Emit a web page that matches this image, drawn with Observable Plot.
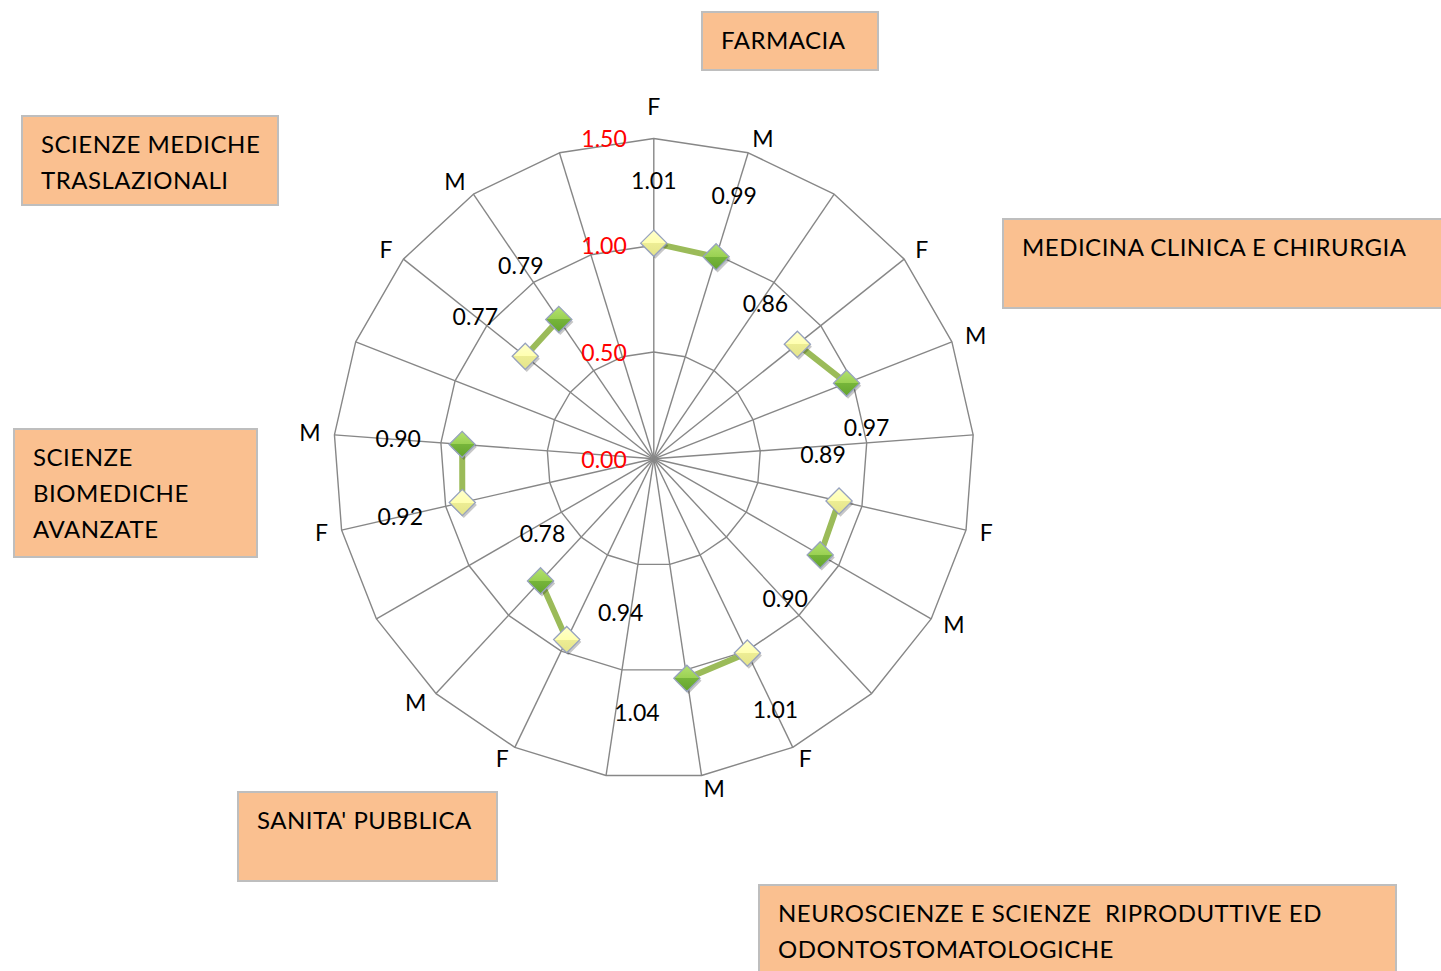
<!DOCTYPE html>
<html><head><meta charset="utf-8">
<script src="https://cdn.jsdelivr.net/npm/d3@7"></script>
<script src="https://cdn.jsdelivr.net/npm/@observablehq/plot@0.6"></script>
<style>
html,body{margin:0;padding:0;background:#fff;}
body{width:1441px;height:971px;overflow:hidden;position:relative;font-family:Lato,"Open Sans",sans-serif;}
#chart{position:absolute;left:0;top:0;}
.box{position:absolute;box-sizing:border-box;background:#FAC090;border:2px solid #BEBEBE;padding:9px 0 0 18px;font-size:24px;letter-spacing:0.5px;line-height:36px;color:#000;white-space:pre;overflow:hidden;}
</style></head><body>
<div id="chart"></div>
<script>
// ---- data ----
const spokeLabels = ["F","M","","F","M","","F","M","","F","M","","F","M","","F","M","","F","M",""];
const groupFirstSpoke = [0, 3, 6, 9, 12, 15, 18];
const valuesF = [1.01, 0.86, 0.89, 1.01, 0.94, 0.92, 0.77];
const valuesM = [0.99, 0.97, 0.90, 1.04, 0.78, 0.90, 0.79];
const ringTicks = [0, 0.5, 1.0, 1.5];
const boxNames = [
  "FARMACIA",
  "SCIENZE MEDICHE\nTRASLAZIONALI",
  "MEDICINA CLINICA E CHIRURGIA",
  "SCIENZE\nBIOMEDICHE\nAVANZATE",
  "SANITA' PUBBLICA",
  "NEUROSCIENZE E SCIENZE  RIPRODUTTIVE ED\nODONTOSTOMATOLOGICHE"
];

// ---- layout (positions / styles only) ----
const boxLayout = [
  {left:701, top:11, width:178, height:60},
  {left:21, top:115, width:258, height:91},
  {left:1002, top:218, width:460, height:91},
  {left:13, top:428, width:245, height:130},
  {left:237, top:791, width:261, height:91},
  {left:758, top:884, width:639, height:110}
];
const labelNudge = [[0,-62],[18,-60],[-32,-40],[20,45],[-16,-45],[-35,45],[28,58],[-50,35],[54,-26],[2,-46],[-62,15],[-64,-5],[-50,-39],[-38,-53]];
const W = 1441, H = 971, CX = 653.3, CY = 458.3, U = 213.5;
const N = spokeLabels.length;
const ang = i => i * 2 * Math.PI / N;
const px = (i, r) => r * Math.sin(ang(i));
const py = (i, r) => r * Math.cos(ang(i));
const spokes = d3.range(N);
const rmax = d3.max(ringTicks);
const rLab = rmax + 14 / U;

const points = groupFirstSpoke.flatMap((s, g) => [
  {g, sex: "F", spoke: s, value: valuesF[g]},
  {g, sex: "M", spoke: s + 1, value: valuesM[g]}
]);
const ringPts = ringTicks.filter(r => r > 0).flatMap(r => spokes.map(i => ({r, i})));
const labeled = spokes.filter(i => spokeLabels[i]);
const rightSide = labeled.filter(i => Math.sin(ang(i)) > 1e-6);
const leftSide = labeled.filter(i => Math.sin(ang(i)) < -1e-6);
const topSide = labeled.filter(i => Math.abs(Math.sin(ang(i))) <= 1e-6);

const gridColor = "#878787";
const txt = {fontSize: 23, fill: "#000"};
const marks = [
  Plot.line(ringPts, {x: d => px(d.i, d.r), y: d => py(d.i, d.r), z: "r", curve: "linear-closed", stroke: gridColor, strokeWidth: 1.4}),
  Plot.link(spokes, {x1: 0, y1: 0, x2: i => px(i, rmax), y2: i => py(i, rmax), stroke: gridColor, strokeWidth: 1.4}),
  Plot.text(ringTicks, {x: 0, y: d => d, text: d => d.toFixed(2), textAnchor: "end", dx: -27, dy: 1.5, fill: "#FF0000", fontSize: 23}),
  Plot.line(points, {x: d => px(d.spoke, d.value), y: d => py(d.spoke, d.value), z: "g", stroke: "#9BBB59", strokeWidth: 6}),
  Plot.dot(points, {x: d => px(d.spoke, d.value), y: d => py(d.spoke, d.value), symbol: "diamond2", r: 11.8, fill: "#000", fillOpacity: 0.22, stroke: "none", dx: 1.5, dy: 2.5}),
  Plot.dot(points, {x: d => px(d.spoke, d.value), y: d => py(d.spoke, d.value), symbol: "diamond2", r: 11.8, fill: d => d.sex === "F" ? "url(#gradF)" : "url(#gradM)", stroke: "#97A2BE", strokeWidth: 1.3}),
  ...points.map((p, k) => Plot.text([p], {x: d => px(d.spoke, d.value), y: d => py(d.spoke, d.value), text: d => d.value.toFixed(2), dx: labelNudge[k][0], dy: labelNudge[k][1], ...txt})),
  Plot.text(rightSide, {x: i => px(i, rLab), y: i => py(i, rLab), text: i => spokeLabels[i], textAnchor: "start", ...txt}),
  Plot.text(leftSide, {x: i => px(i, rLab), y: i => py(i, rLab), text: i => spokeLabels[i], textAnchor: "end", ...txt}),
  Plot.text(topSide, {x: i => px(i, rmax), y: i => py(i, rmax), text: i => spokeLabels[i], dy: -31, ...txt})
];

const svg = Plot.plot({
  width: W, height: H, margin: 0,
  style: {fontFamily: "Lato, 'Open Sans', sans-serif", background: "transparent", overflow: "visible"},
  x: {domain: [-CX / U, (W - CX) / U], axis: null},
  y: {domain: [-(H - CY) / U, CY / U], axis: null},
  marks
});
const defs = d3.select(svg).insert("defs", ":first-child");
const gF = defs.append("linearGradient").attr("id", "gradF").attr("x1", 0).attr("y1", 0).attr("x2", 0).attr("y2", 1);
gF.append("stop").attr("offset", "0%").attr("stop-color", "#FFFFCC");
gF.append("stop").attr("offset", "50%").attr("stop-color", "#FFFFB0");
gF.append("stop").attr("offset", "50%").attr("stop-color", "#EDED94");
gF.append("stop").attr("offset", "100%").attr("stop-color", "#E4E48A");
const gM = defs.append("linearGradient").attr("id", "gradM").attr("x1", 0).attr("y1", 0).attr("x2", 0).attr("y2", 1);
gM.append("stop").attr("offset", "0%").attr("stop-color", "#B2E070");
gM.append("stop").attr("offset", "50%").attr("stop-color", "#9AD152");
gM.append("stop").attr("offset", "50%").attr("stop-color", "#76B53A");
gM.append("stop").attr("offset", "100%").attr("stop-color", "#64A42E");
document.getElementById("chart").appendChild(svg);

boxNames.forEach((name, k) => {
  const d = document.createElement("div");
  d.className = "box";
  const L = boxLayout[k];
  Object.assign(d.style, {left: L.left + "px", top: L.top + "px", width: L.width + "px", height: L.height + "px"});
  d.textContent = name;
  document.body.appendChild(d);
});
</script>
</body></html>
